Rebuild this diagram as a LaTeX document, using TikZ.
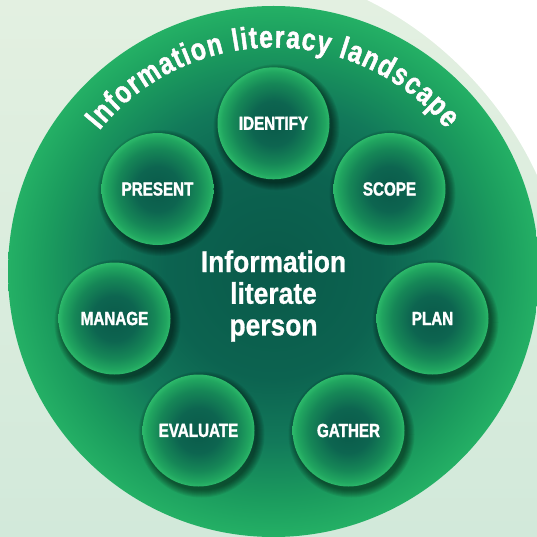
\documentclass[tikz,border=0pt]{standalone}
\usepackage{fontspec}
\setmainfont{Liberation Sans}
\newfontfamily\lblfont{Liberation Sans}[FakeStretch=0.80, FakeBold=1.6, UprightFont={* Bold}, BoldFont={* Bold}]
\newfontfamily\ctrfont{Liberation Sans}[FakeStretch=0.88, FakeBold=0.8, UprightFont={* Bold}, BoldFont={* Bold}]
\newfontfamily\ttlfont{Liberation Sans}[FakeStretch=0.80, FakeBold=1.6, UprightFont={* Bold}, BoldFont={* Bold}]
\usetikzlibrary{decorations.text}
\definecolor{bgtop}{HTML}{E3F0E1}
\definecolor{bgbot}{HTML}{D2E9DA}
\definecolor{bcA}{HTML}{0A5A4A}
\definecolor{bcB}{HTML}{0C6350}
\definecolor{bcC}{HTML}{12795A}
\definecolor{bcD}{HTML}{1B9C5E}
\definecolor{bcE}{HTML}{24B065}
\definecolor{scA}{HTML}{0A5A4A}
\definecolor{scB}{HTML}{0D6550}
\definecolor{scC}{HTML}{168757}
\definecolor{scD}{HTML}{21A660}
\definecolor{scE}{HTML}{2CB86A}
\pgfdeclareradialshading{bigshade}{\pgfpoint{0bp}{0bp}}{color(0bp)=(bcA); color(10bp)=(bcB); color(16bp)=(bcC); color(21.5bp)=(bcD); color(25bp)=(bcE); color(50bp)=(bcE)}
\pgfdeclareradialshading{smallshade}{\pgfpoint{0bp}{0bp}}{color(0bp)=(scA); color(10bp)=(scB); color(18bp)=(scC); color(23bp)=(scD); color(25bp)=(scE); color(50bp)=(scE)}
\tikzset{
  stage/.style={circle, minimum size=112, inner sep=0pt, shade, shading=smallshade,
    font=\lblfont\fontsize{19}{20}\selectfont, text=white},
  centertext/.style={font=\ctrfont\fontsize{30}{31.7}\selectfont, text=white, align=center, inner sep=0pt},
  shadowdisc/.style={fill=black, opacity=0.07}
}
\begin{document}
\begin{tikzpicture}[x=1pt,y=1pt]
\useasboundingbox (0,0) rectangle (537,536);
\clip (0,0) rectangle (537,536);
% background
\shade[top color=bgtop, bottom color=bgbot] (0,0) rectangle (537,536);
\fill[white] (367,536) .. controls (445,498) and (505,431) .. (537,361) -- (537,536) -- cycle;
% big circle
\coordinate (bigc) at (273.5,264.5);
\shade[shading=bigshade] (bigc) circle (265.5);
% stage positions
\coordinate (identify-c) at (273.5,412.7);
\coordinate (scope-c) at (389.5,347);
\coordinate (plan-c) at (432.5,217.5);
\coordinate (gather-c) at (348.5,105.5);
\coordinate (evaluate-c) at (198.5,105.5);
\coordinate (manage-c) at (114.5,217.5);
\coordinate (present-c) at (157.5,347);
% soft shadows
\foreach \p in {identify-c,scope-c,plan-c,gather-c,evaluate-c,manage-c,present-c}{
  \foreach \k in {0,...,7}{
    \fill[shadowdisc] ([shift={(3,-4)}]\p) circle ({56+\k});
  }
}
% title shadow
\begin{scope}[shift={(3,-4.5)}, opacity=0.15]
\path[decorate, decoration={text along path, text={|\ttlfont\fontsize{31}{31}\selectfont\color{black}|Information literacy landscape}, text align=fit to path}]
  ([shift={(141:224)}]bigc) arc[start angle=141, end angle=39.5, radius=224];
\end{scope}
\begin{scope}[shift={(1.8,-2.5)}, opacity=0.25]
\path[decorate, decoration={text along path, text={|\ttlfont\fontsize{31}{31}\selectfont\color{black}|Information literacy landscape}, text align=fit to path}]
  ([shift={(141:224)}]bigc) arc[start angle=141, end angle=39.5, radius=224];
\end{scope}
% title
\path[decorate, decoration={text along path, text={|\ttlfont\fontsize{31}{31}\selectfont\color{white}|Information literacy landscape}, text align=fit to path}]
  ([shift={(141:224)}]bigc) arc[start angle=141, end angle=39.5, radius=224];
% stages
\node[stage] (identify) at (identify-c) {IDENTIFY};
\node[stage] (scope) at (scope-c) {SCOPE};
\node[stage] (plan) at (plan-c) {PLAN};
\node[stage] (gather) at (gather-c) {GATHER};
\node[stage] (evaluate) at (evaluate-c) {EVALUATE};
\node[stage] (manage) at (manage-c) {MANAGE};
\node[stage] (present) at (present-c) {PRESENT};
% centre
\node[centertext] (person) at (273.5,240) {Information\\literate\\person};
\end{tikzpicture}
\end{document}
